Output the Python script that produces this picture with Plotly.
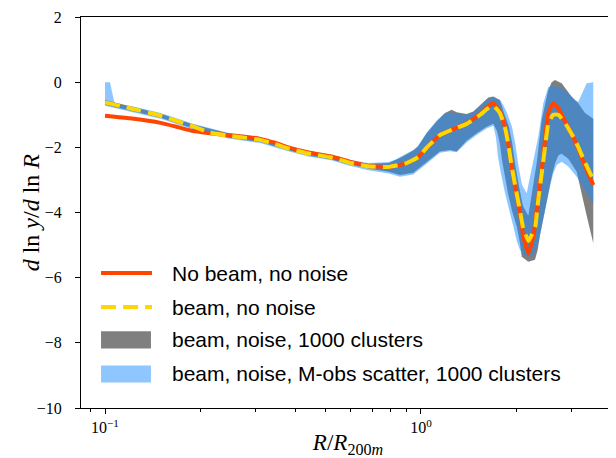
import plotly.graph_objects as go

# ---------------- data ----------------
# "No beam, no noise"
nb_x = [0.1, 0.12, 0.15, 0.17, 0.19, 0.215, 0.245, 0.28, 0.31, 0.345, 0.38, 0.44, 0.52, 0.59,
        0.68, 0.79, 0.89, 0.98, 1.04, 1.15, 1.26, 1.395, 1.54, 1.62, 1.69, 1.778, 1.845, 1.889,
        1.927, 1.984, 2.058, 2.108, 2.186, 2.267, 2.323, 2.38, 2.438, 2.468, 2.528, 2.622, 2.72,
        2.856, 3.072, 3.345, 3.51]
nb_y = [-1.03, -1.11, -1.25, -1.38, -1.50, -1.57, -1.63, -1.68, -1.74, -1.86, -2.0, -2.16, -2.28, -2.43,
        -2.57, -2.6, -2.5, -2.3, -2.02, -1.62, -1.45, -1.26, -0.97, -0.76, -0.65, -0.9, -1.37, -1.88,
        -2.45, -3.2, -4.02, -4.74, -5.25, -4.74, -3.92, -3.1, -2.3, -1.75, -0.95, -0.65, -0.8,
        -1.2, -1.8, -2.69, -3.16]

# "beam, no noise"
b_x = [0.1, 0.12, 0.15, 0.17, 0.19, 0.215, 0.245, 0.28, 0.31, 0.345, 0.38, 0.44, 0.52, 0.59,
       0.68, 0.79, 0.89, 0.98, 1.04, 1.15, 1.26, 1.395, 1.54, 1.62, 1.69, 1.778, 1.845, 1.889,
       1.927, 1.984, 2.058, 2.108, 2.19, 2.262, 2.30, 2.35, 2.41, 2.47, 2.53, 2.62, 2.72, 2.86,
       3.07, 3.30, 3.43, 3.51]
b_y = [-0.62, -0.8, -1.03, -1.2, -1.36, -1.55, -1.64, -1.71, -1.77, -1.9, -2.03, -2.19, -2.31, -2.46,
       -2.58, -2.6, -2.5, -2.3, -2.02, -1.62, -1.45, -1.28, -1.0, -0.82, -0.72, -0.95, -1.4, -1.9,
       -2.45, -3.15, -3.95, -4.5, -4.87, -4.6, -4.43, -3.62, -2.8, -1.98, -1.26, -1.0, -1.0, -1.26,
       -1.77, -2.45, -2.8, -2.98]

# "beam, noise, 1000 clusters" band: upper and lower edges
gray_hi_x = [0.1, 0.12, 0.15, 0.19, 0.245, 0.31, 0.38, 0.44, 0.52, 0.59, 0.68, 0.79, 0.858, 0.945,
             0.978, 1.042, 1.121, 1.191, 1.251, 1.297, 1.395, 1.464, 1.556, 1.633, 1.694, 1.778,
             1.831, 1.899, 1.945, 1.984, 2.043, 2.103, 2.186, 2.267, 2.323, 2.41, 2.469, 2.528,
             2.592, 2.655, 2.788, 2.998, 3.147, 3.304, 3.51]
gray_hi_y = [-0.55, -0.74, -0.97, -1.3, -1.57, -1.7, -1.96, -2.12, -2.24, -2.39, -2.5, -2.48, -2.33, -2.1,
             -1.98, -1.57, -1.21, -0.95, -0.85, -0.92, -0.98, -0.9, -0.65, -0.47, -0.44, -0.55,
             -0.95, -1.37, -1.88, -2.49, -3.2, -3.8, -4.1, -3.2, -2.49, -1.16, -0.65, -0.24,
             0.0, 0.07, -0.03, -0.45, -0.65, -0.95, -1.12]
gray_lo_x = [0.1, 0.12, 0.15, 0.19, 0.245, 0.31, 0.38, 0.44, 0.52, 0.59, 0.68, 0.79, 0.858, 0.945,
             1.042, 1.148, 1.235, 1.297, 1.395, 1.501, 1.614, 1.694, 1.74, 1.778, 1.804, 1.845,
             1.885, 1.941, 2.009, 2.058, 2.084, 2.186, 2.295, 2.34, 2.38, 2.469, 2.528, 2.592,
             2.655, 2.72, 2.788, 2.925, 3.11, 3.225, 3.345, 3.51]
gray_lo_y = [-0.69, -0.87, -1.09, -1.42, -1.7, -1.84, -2.09, -2.25, -2.37, -2.52, -2.65, -2.75, -2.85, -2.78,
             -2.44, -2.13, -2.08, -2.13, -1.8, -1.57, -1.37, -1.28, -1.5, -1.9, -2.39, -2.9,
             -3.41, -3.95, -4.43, -4.95, -5.36, -5.51, -5.45, -5.15, -4.7, -3.9, -3.4, -2.9,
             -2.5, -2.25, -2.2, -2.35, -2.75, -3.41, -4.1, -4.94]

# "beam, noise, M-obs scatter, 1000 clusters" band: upper and lower edges
blue_hi_x = [0.1, 0.1037, 0.1076, 0.12, 0.15, 0.19, 0.245, 0.31, 0.38, 0.44, 0.52, 0.59, 0.68, 0.79,
             0.827, 0.858, 0.945, 0.978, 1.042, 1.121, 1.191, 1.251, 1.312, 1.395, 1.464, 1.556,
             1.633, 1.694, 1.778, 1.822, 1.872, 1.941, 1.988, 2.028, 2.087, 2.16, 2.267, 2.351,
             2.438, 2.528, 2.622, 2.72, 2.891, 3.072, 3.147, 3.263, 3.345, 3.51]
blue_hi_y = [0.0, 0.0, -0.72, -0.72, -0.95, -1.28, -1.55, -1.68, -1.94, -2.1, -2.22, -2.37, -2.48, -2.45,
             -2.38, -2.3, -2.08, -1.95, -1.55, -1.18, -0.95, -0.93, -0.98, -1.0, -0.92, -0.68,
             -0.52, -0.48, -0.55, -0.7, -0.95, -1.37, -1.88, -2.49, -3.15, -3.41, -2.39, -1.67,
             -0.65, -0.15, -0.12, -0.14, -0.29, -0.55, -0.6, -0.24, -0.03, 0.0]
blue_lo_x = [0.1, 0.12, 0.15, 0.19, 0.245, 0.31, 0.38, 0.44, 0.52, 0.59, 0.68, 0.79, 0.858, 0.945,
             1.042, 1.148, 1.235, 1.297, 1.395, 1.501, 1.614, 1.694, 1.727, 1.753, 1.791, 1.845,
             1.899, 1.96, 2.013, 2.058, 2.118, 2.186, 2.262, 2.295, 2.351, 2.41, 2.499, 2.559,
             2.622, 2.688, 2.788, 2.925, 3.11, 3.304, 3.484, 3.51]
blue_lo_y = [-0.72, -0.9, -1.12, -1.45, -1.73, -1.87, -2.12, -2.28, -2.4, -2.56, -2.7, -2.8, -2.9, -2.83,
             -2.5, -2.17, -2.12, -2.15, -1.85, -1.62, -1.42, -1.34, -1.7, -2.3, -2.8, -3.41,
             -3.9, -4.43, -4.9, -5.15, -5.3, -5.36, -5.3, -5.2, -4.94, -4.43, -3.72, -3.2,
             -2.8, -2.54, -2.44, -2.59, -2.9, -3.31, -3.67, -3.72]

y_ticks = [-10, -8, -6, -4, -2, 0, 2]
x_ticks = [0.1, 1.0]
x_ticktext = ["10<sup>\u22121</sup>", "10<sup>0</sup>"]
x_minor = [0.09, 0.2, 0.3, 0.4, 0.5, 0.6, 0.7, 0.8, 0.9, 2, 3, 4]

legend_labels = ["No beam, no noise", "beam, no noise",
                 "beam, noise, 1000 clusters",
                 "beam, noise, M-obs scatter, 1000 clusters"]
x_title = "<i>R</i>/<i>R</i><sub>200<i>m</i></sub>"
y_title = "<i>d</i> ln <i>y</i>/<i>d</i> ln <i>R</i>"

# ---------------- styles ----------------
RED = "#FF4500"
GOLD = "#FFD700"
GRAY_FILL = "rgba(0,0,0,0.5)"
BLUE_FILL = "rgba(30,144,255,0.5)"
SERIF = "Liberation Serif"
SANS = "Liberation Sans"

fig = go.Figure()

fig.add_trace(go.Scatter(
    x=gray_hi_x + gray_lo_x[::-1], y=gray_hi_y + gray_lo_y[::-1],
    mode="lines", fill="toself", fillcolor=GRAY_FILL, line=dict(width=0),
    name=legend_labels[2], showlegend=False, hoverinfo="skip"))
fig.add_trace(go.Scatter(
    x=blue_hi_x + blue_lo_x[::-1], y=blue_hi_y + blue_lo_y[::-1],
    mode="lines", fill="toself", fillcolor=BLUE_FILL, line=dict(width=0),
    name=legend_labels[3], showlegend=False, hoverinfo="skip"))
fig.add_trace(go.Scatter(
    x=nb_x, y=nb_y, mode="lines", line=dict(color=RED, width=4, shape="spline", smoothing=0.4),
    name=legend_labels[0], showlegend=False))
fig.add_trace(go.Scatter(
    x=b_x, y=b_y, mode="lines",
    line=dict(color=GOLD, width=4, dash="15px,7px", shape="spline", smoothing=0.4),
    name=legend_labels[1], showlegend=False))

# ---------------- manual legend (matplotlib-like handles) ----------------
hx0, hx1 = 0.0375, 0.133
rows = [0.345, 0.258, 0.174, 0.087]
fig.add_shape(type="line", xref="paper", yref="paper", x0=hx0, x1=hx1, y0=rows[0], y1=rows[0],
              line=dict(color=RED, width=4))
fig.add_shape(type="line", xref="paper", yref="paper", x0=hx0, x1=hx1, y0=rows[1], y1=rows[1],
              line=dict(color=GOLD, width=4, dash="15px,7px"))
for r, col in [(rows[2], GRAY_FILL), (rows[3], BLUE_FILL)]:
    fig.add_shape(type="rect", xref="paper", yref="paper", x0=hx0, x1=hx1 - 0.002,
                  y0=r - 0.022, y1=r + 0.022, fillcolor=col, line=dict(width=0))
for r, lab in zip(rows, legend_labels):
    fig.add_annotation(x=0.1667, y=r, xref="paper", yref="paper", text=lab, showarrow=False,
                       xanchor="left", yanchor="middle",
                       font=dict(family=SANS, size=21, color="black"))

# y-axis title as a rotated annotation (placed like matplotlib's ylabel)
fig.add_annotation(x=-0.094, y=0.5, xref="paper", yref="paper", text=y_title, showarrow=False,
                   textangle=-90, xanchor="center", yanchor="middle",
                   font=dict(family=SERIF, size=24, color="black"))

axis_common = dict(showgrid=False, zeroline=False, showline=True, linecolor="black", linewidth=1.1,
                   mirror=True, ticks="outside", tickcolor="black", tickwidth=1.1, ticklen=5,
                   tickfont=dict(family=SERIF, size=16, color="black"))

# the page body adds an 8px offset, so the figure is 8px smaller and margins shifted
fig.update_layout(
    width=608, height=450,
    margin=dict(l=73, r=1, t=9, b=50),
    paper_bgcolor="white", plot_bgcolor="white",
    showlegend=False,
    xaxis=dict(type="log", range=[-1.076, 0.614], tickmode="array", tickvals=x_ticks,
               ticktext=x_ticktext,
               minor=dict(tickmode="array", tickvals=x_minor, ticks="outside", ticklen=3,
                          tickwidth=1, tickcolor="black", showgrid=False),
               title=dict(text=x_title, standoff=4,
                          font=dict(family=SERIF, size=23, color="black")),
               ticklabelstandoff=0,
               automargin=False, **axis_common),
    yaxis=dict(range=[-10, 2], tickmode="array", tickvals=y_ticks,
               ticklabelstandoff=10,
               automargin=False, **axis_common),
)

fig.write_html("out.html")
